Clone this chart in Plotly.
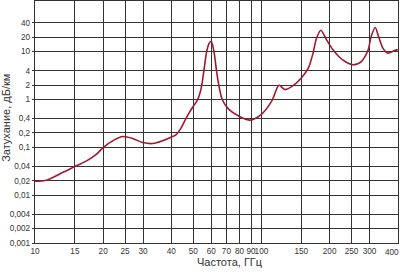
import plotly.graph_objects as go

# Data
freq_ghz = [10, 11.1, 13.3, 15.2, 16.9, 18.7, 20, 22.4, 24.4, 27, 29.9, 33.1, 36.6, 40.5,
            42, 44, 46, 48, 50, 52, 53.5, 54.6, 55.7, 57.3, 58.6, 60, 61.7, 63.8, 67.1,
            71.8, 79.4, 89, 100, 111, 119.5, 127, 138, 150, 161, 169, 175, 183, 194,
            207, 220, 234, 254, 276, 296, 305, 318, 329, 344, 361, 387, 400]
atten_db_km = [0.0195, 0.0202, 0.030, 0.041, 0.052, 0.072, 0.099, 0.143, 0.168, 0.153, 0.126,
               0.12, 0.137, 0.168, 0.185, 0.245, 0.37, 0.53, 0.72, 0.95, 1.35, 2.1, 4.0, 10,
               14.5, 16.5, 10, 3.1, 1.0, 0.62, 0.45, 0.37, 0.49, 0.92, 1.98, 1.61, 1.95,
               2.8, 4.5, 9.3, 19, 28, 17.6, 10.9, 7.8, 6.2, 5.3, 6.2, 10.9, 20.6, 32, 20.6,
               11.8, 9.3, 10.5, 11]

x_ticks = [10, 15, 20, 25, 30, 40, 50, 60, 70, 80, 90, 100, 150, 200, 250, 300, 400]
x_ticktext = ["10", "15", "20", "25", "30", "40", "50", "60", "70", "80", "90", "100",
              "150", "200", "250", "300", ""]
last_x_label = "400"
y_ticks = [0.001, 0.002, 0.004, 0.01, 0.02, 0.04, 0.1, 0.2, 0.4, 1, 2, 4, 10, 20, 40]
y_ticktext = ["0,001", "0,002", "0,004", "0,01", "0,02", "0,04", "0,1", "0,2", "0,4",
              "1", "2", "4", "10", "20", "40"]

grid_col = "#333333"
font_fam = "Liberation Sans, Arial, sans-serif"
tick_size = 8.2

fig = go.Figure()
fig.add_trace(go.Scatter(
    x=freq_ghz, y=atten_db_km, mode="lines",
    line=dict(color="#a01a2e", width=1.6, shape="spline", smoothing=0.8),
    hoverinfo="skip", showlegend=False,
))

fig.update_layout(
    width=400, height=274,
    margin=dict(l=35, r=2, t=1, b=30.7),
    paper_bgcolor="white", plot_bgcolor="white",
    font=dict(family=font_fam, size=tick_size, color="#333333"),
    xaxis=dict(
        type="log", range=[1, 2.603], automargin=False,
        tickvals=x_ticks, ticktext=x_ticktext, tickangle=0,
        showgrid=True, gridcolor=grid_col, gridwidth=1.4,
        showline=True, linecolor=grid_col, linewidth=1.4, mirror=True,
        ticks="", zeroline=False,
    ),
    yaxis=dict(
        type="log", range=[-3, 2.058], automargin=False,
        tickvals=y_ticks, ticktext=y_ticktext,
        showgrid=True, gridcolor=grid_col, gridwidth=1.4,
        showline=True, linecolor=grid_col, linewidth=1.4, mirror=True,
        ticks="outside", ticklen=2, tickcolor=grid_col, tickwidth=1.4,
        zeroline=False,
    ),
    annotations=[
        dict(text=last_x_label, xref="x", yref="paper",
             x=2.60206, y=0, yshift=-9, xshift=-6,
             xanchor="center", yanchor="middle", showarrow=False,
             font=dict(family=font_fam, size=tick_size, color="#333333")),
        dict(text="Частота, ГГц", xref="paper", yref="paper",
             x=(230 - 35) / 363, y=-(262 - 243.3) / 242.3,
             xanchor="center", yanchor="middle", showarrow=False,
             font=dict(family=font_fam, size=11, color="#333333")),
        dict(text="Затухание, дБ/км", xref="paper", yref="paper",
             x=-(35 - 6) / 363, y=(243.3 - 118) / 242.3,
             xanchor="center", yanchor="middle", showarrow=False, textangle=-90,
             font=dict(family=font_fam, size=11, color="#333333")),
    ],
)

fig.write_html("out.html")
